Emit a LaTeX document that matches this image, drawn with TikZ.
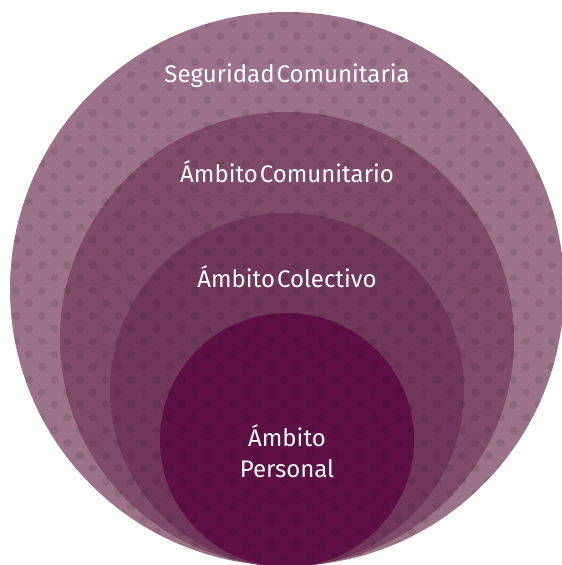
\documentclass[tikz,border=0pt]{standalone}
\usepackage{fontspec}
\setmainfont{Fira Sans}
\definecolor{c1}{HTML}{9B7289}
\definecolor{c2}{HTML}{7F4B68}
\definecolor{c3}{HTML}{70365A}
\definecolor{c4}{HTML}{5E1046}
\tikzset{
  lbl/.style={text=white, font=\fontsize{24}{29}\selectfont, align=center, inner sep=0pt, anchor=base},
  dotmark/.style={fill=black, fill opacity=0.085, draw=none}
}
\begin{document}
\begin{tikzpicture}[x=1pt,y=-1pt]
\useasboundingbox (0,0) rectangle (562,565);
\fill[c1] (287,289) circle[radius=277];
\fill[c2] (287,339) circle[radius=227];
\fill[c3] (287,390) circle[radius=177];
\fill[c4] (287,440) circle[radius=127];
\begin{scope}
\clip (287,289) circle[radius=277];
\foreach \j in {-2,...,44}{
  \pgfmathsetmacro{\yy}{24+12.7*\j}
  \pgfmathsetmacro{\off}{mod(abs(\j),2)*12.75}
  \foreach \i in {-10,...,13}{
    \fill[dotmark] ({233+25.5*\i+\off},\yy) circle[radius=4];
  }
}
\end{scope}
\node[lbl] (seg) at (287,82) {Seguridad\hspace{2pt}Comunitaria};
\node[lbl] (com) at (287,182) {Ámbito\hspace{2pt}Comunitario};
\node[lbl] (col) at (287,287) {Ámbito\hspace{2pt}Colectivo};
\node[lbl] (per1) at (287,446) {Ámbito};
\node[lbl] (per2) at (287,477) {Personal};
\end{tikzpicture}
\end{document}
